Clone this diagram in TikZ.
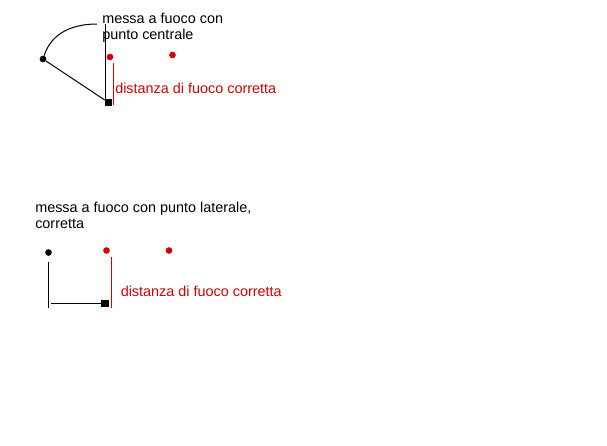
\documentclass[tikz,border=0pt]{standalone}
\usepackage{fontspec}
\setmainfont{Liberation Sans}
\definecolor{rossofuoco}{RGB}{214,0,0}
\tikzset{
  testo/.style={inner sep=0pt, font=\fontsize{10.8pt}{12pt}\selectfont, align=left},
  puntonero/.style={circle, fill=black, inner sep=0pt, minimum size=5pt},
  puntorosso/.style={circle, fill=rossofuoco, inner sep=0pt, minimum size=5pt},
  quadro/.style={rectangle, fill=black, inner sep=0pt, minimum size=5.3pt},
  linea/.style={line width=0.75pt}
}
\begin{document}
\begin{tikzpicture}[x=0.75pt,y=-0.75pt]
\useasboundingbox (0,0) rectangle (607,446);

% fuoco con punto centrale
\node[puntonero] (centro) at (43,59) {};
\node[quadro] (sensA) at (108.5,102.5) {};
\coordinate (arcofine) at (97,24);
\coordinate (barratop) at (105.5,24);
\draw[linea] (centro) to[out=72,in=180] (arcofine);
\draw[linea] (barratop) -- (barratop |- sensA.north);
\draw[linea] (centro) -- (sensA);
\node[testo, anchor=base west] (titoloA) at (102,39) {messa a fuoco con\\punto centrale};

% fuoco con punto laterale
\node[puntonero] (lato) at (48.5,252.5) {};
\node[quadro] (sensB) at (105,303.5) {};
\coordinate (latotop) at (48.5,262);
\coordinate (latobot) at (48.5,308);
\coordinate (basesx) at (51,303.5);
\draw[linea] (latotop) -- (latobot);
\draw[linea] (basesx) -- (sensB);
\node[testo, anchor=base west] (titoloB) at (35,228) {messa a fuoco con punto laterale,\\corretta};

% punti rossi e distanza
\foreach \x/\y/\n in {110/57/a1,172.5/55/a2,106.5/250.5/b1,169/250.5/b2} {
    \node[puntorosso] (p\n) at (\x,\y) {};
}
\coordinate (distAtop) at (113.5,63);
\coordinate (distAbot) at (113.5,105);
\coordinate (distBtop) at (111,257);
\coordinate (distBbot) at (111,308);
\draw[linea, rossofuoco] (distAtop) -- (distAbot);
\draw[linea, rossofuoco] (distBtop) -- (distBbot);
\node[testo, rossofuoco, anchor=base west] (distA) at (115,93) {distanza di fuoco corretta};
\node[testo, rossofuoco, anchor=base west] (distB) at (120.5,296) {distanza di fuoco corretta};
\end{tikzpicture}
\end{document}
